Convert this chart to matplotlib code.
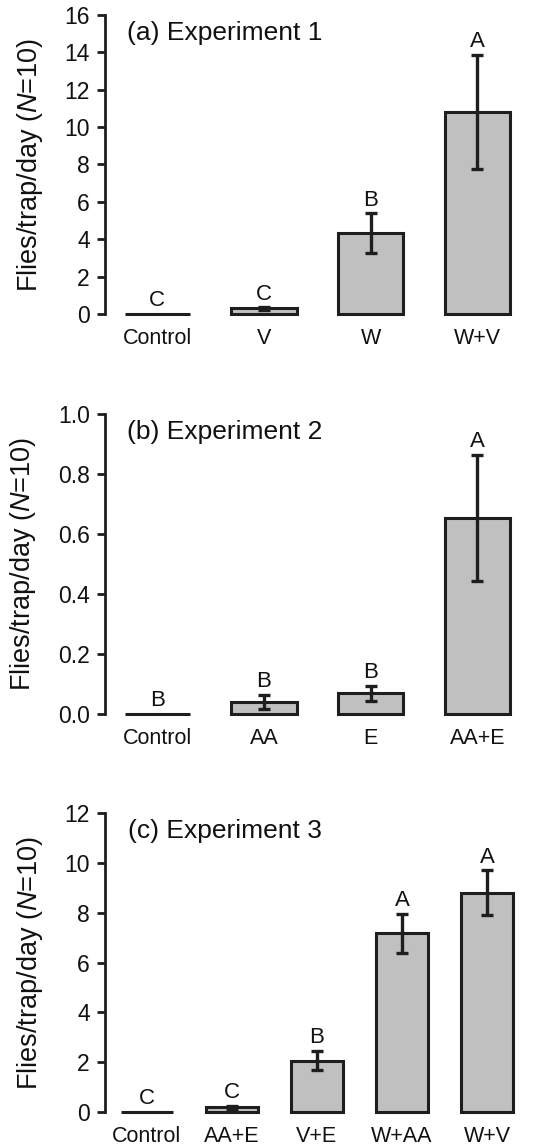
import matplotlib.pyplot as plt
import numpy as np

plt.rcParams['font.family'] = ['Liberation Sans', 'DejaVu Sans']
plt.rcParams['mathtext.fontset'] = 'custom'
plt.rcParams['mathtext.rm'] = 'Liberation Sans'
plt.rcParams['mathtext.it'] = 'Liberation Sans:italic'

# 实验1
exp1_labels = ['Control', 'V', 'W', 'W+V']
exp1_means = [0.0, 0.3, 4.33, 10.8]
exp1_errs = [0.0, 0.06, 1.05, 3.05]
exp1_groups = ['C', 'C', 'B', 'A']

# 实验2
exp2_labels = ['Control', 'AA', 'E', 'AA+E']
exp2_means = [0.0, 0.04, 0.07, 0.655]
exp2_errs = [0.0, 0.024, 0.025, 0.21]
exp2_groups = ['B', 'B', 'B', 'A']

# 实验3
exp3_labels = ['Control', 'AA+E', 'V+E', 'W+AA', 'W+V']
exp3_means = [0.02, 0.2, 2.06, 7.17, 8.8]
exp3_errs = [0.0, 0.06, 0.39, 0.8, 0.9]
exp3_groups = ['C', 'C', 'B', 'A', 'A']

edge = '#1e1e1e'
face = '#c0c0c0'
txt = '#111111'


def draw_panel(ax, labels, means, errs, groups, title, ymax, ystep, fmt):
    n = len(labels)
    x = np.arange(n)
    bars = ax.bar(x, means, width=0.61, color=face, edgecolor=edge, linewidth=2.2, zorder=2)
    for b in bars:
        b.set_clip_on(False)
    has_err = [e > 0 for e in errs]
    ax.errorbar(x[has_err], np.array(means)[has_err], yerr=np.array(errs)[has_err],
                fmt='none', ecolor=edge, elinewidth=2.4, capsize=4.5, capthick=2.4, zorder=3)
    for xi, m, e, g in zip(x, means, errs, groups):
        ax.annotate(g, (xi, m + e), xytext=(0, 2), textcoords='offset points',
                    ha='center', va='bottom', fontsize=16, color=txt)

    ax.set_xlim(-0.49, n - 1 + 0.32)
    ax.set_ylim(0, ymax)
    ticks = np.arange(0, ymax + ystep / 2, ystep)
    ax.set_yticks(ticks)
    ax.set_yticklabels([fmt.format(v) for v in ticks])
    ax.set_xticks(x)
    ax.set_xticklabels(labels)

    for s in ['top', 'right', 'bottom']:
        ax.spines[s].set_visible(False)
    ax.spines['left'].set_linewidth(2)
    ax.spines['left'].set_color(edge)
    ax.tick_params(axis='y', length=6, width=2, color=edge, labelsize=16.5, pad=5, labelcolor=txt)
    ax.tick_params(axis='x', length=0, labelsize=15.5, pad=10, labelcolor=txt)

    ax.set_ylabel(r'Flies/trap/day ($\mathit{N}$=$\mathit{10}$)', fontsize=19.5, color=txt, labelpad=14)
    ax.text(0.055, 0.98, title, transform=ax.transAxes, ha='left', va='top', fontsize=19, color=txt)


fig = plt.figure(figsize=(5.53, 11.47), dpi=100)

ax1 = fig.add_axes([0.19, 0.7262, 0.735, 0.2608])
draw_panel(ax1, exp1_labels, exp1_means, exp1_errs, exp1_groups, '(a) Experiment 1', 16, 2, '{:.0f}')

ax2 = fig.add_axes([0.19, 0.3775, 0.735, 0.2615])
draw_panel(ax2, exp2_labels, exp2_means, exp2_errs, exp2_groups, '(b) Experiment 2', 1.0, 0.2, '{:.1f}')

ax3 = fig.add_axes([0.19, 0.0305, 0.74, 0.2605])
draw_panel(ax3, exp3_labels, exp3_means, exp3_errs, exp3_groups, '(c) Experiment 3', 12, 2, '{:.0f}')

plt.savefig('out.png', dpi=100)
